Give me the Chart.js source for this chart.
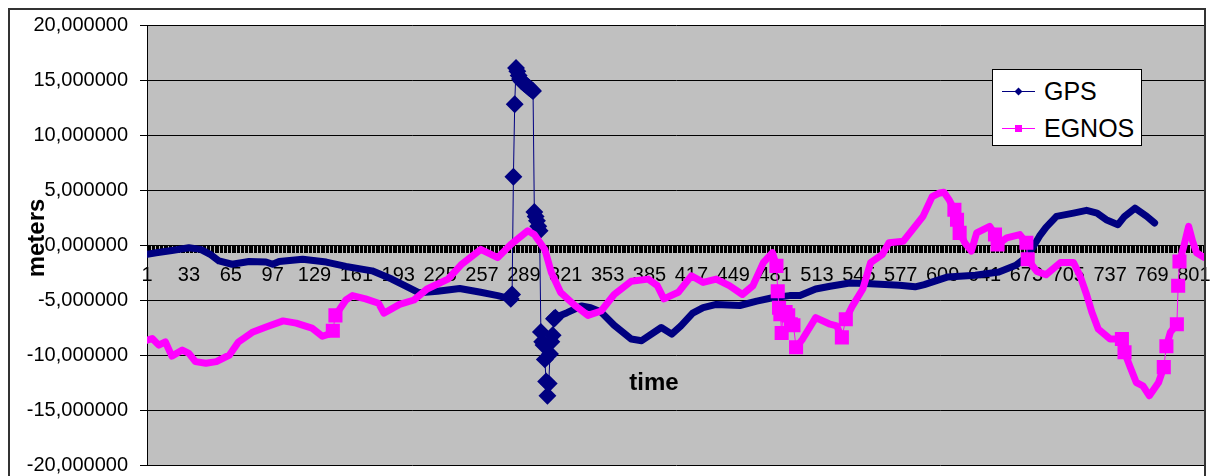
<!DOCTYPE html>
<html>
<head>
<meta charset="utf-8">
<script src="https://cdn.jsdelivr.net/npm/chart.js@4.4.1/dist/chart.umd.min.js"></script>
<style>
  html, body { margin: 0; padding: 0; background: #fff; }
  #wrap { position: relative; width: 1218px; height: 476px; overflow: hidden; }
  #frame { position: absolute; left: 8px; top: 8px; width: 1198px; height: 520px; box-sizing: border-box; border: 2px solid #333; pointer-events: none; }
  #legend { position: absolute; left: 992px; top: 69px; width: 150px; height: 77px; box-sizing: border-box; border: 1px solid #000; background: #fff; padding-top: 3px; font: 25px "Liberation Sans", Arial, sans-serif; color: #000; }
  .item { height: 37px; display: flex; align-items: center; }
  .sym { position: relative; width: 33px; height: 9px; margin-left: 9px; margin-right: 9px; }
  .sym .ln { position: absolute; left: 0; right: 0; top: 4px; height: 1px; }
  .sym .mk { position: absolute; left: 13px; top: 1px; width: 7px; height: 7px; }
  .sym .mk.diamond { transform: rotate(45deg) scale(0.8); }
</style>
</head>
<body>
<div id="wrap">
  <canvas id="c" width="1218" height="476"></canvas>
  <div id="frame"></div>
  <div id="legend"></div>
</div>
<script>
// categories are the sample numbers (1 .. 809)
const categoryCount = 809;
const xTickLabels = [1, 33, 65, 97, 129, 161, 193, 225, 257, 289, 321, 353, 385, 417, 449, 481,
  513, 545, 577, 609, 641, 673, 705, 737, 769, 801];

// GPS error (meters) read at these sample numbers
const gpsCat = [1, 8, 20, 33, 42, 50, 56, 66, 79, 92, 97, 102, 120, 138, 153, 173, 188, 198, 209, 223,
  240, 256, 269, 279, 280, 281, 282, 283, 284, 285, 286, 287, 288, 289, 290, 291, 292, 293, 294, 295,
  296, 297, 298, 299, 300, 301, 302, 303, 304, 305, 306, 307, 308, 309, 310, 311, 312, 313, 322, 333,
  340, 348, 358, 371, 379, 394, 402, 409, 418, 426, 436, 454, 467, 479, 492, 500, 512, 523, 538, 550,
  576, 588, 595, 613, 634, 652, 665, 672, 678, 683, 688, 696, 709, 719, 727, 734, 743, 748, 756, 765, 771];
const gpsVal = [-0.85, -0.7, -0.5, -0.25, -0.4, -0.9, -1.45, -1.75, -1.5, -1.55, -1.75, -1.5, -1.3, -1.55, -1.95, -2.35, -3.1, -3.7, -4.35, -4.2,
  -3.95, -4.3, -4.6, -4.9, -4.5, 6.2, 12.8, 16.1, 15.8, 15.4, 15.1, 14.9, 14.8, 14.7, 14.6, 14.5, 14.4, 14.3, 14.2, 14.1,
  14.0, 3.0, 2.6, 2.2, 1.7, 1.3, -7.9, -8.8, -9.1, -10.4, -12.4, -13.7, -12.6, -9.9, -8.8, -8.2, -6.7, -6.6, -6.15, -5.55,
  -5.7, -6.1, -7.3, -8.55, -8.7, -7.5, -8.1, -7.35, -6.2, -5.7, -5.4, -5.5, -5.1, -4.8, -4.6, -4.6, -4.0, -3.75, -3.45, -3.5,
  -3.65, -3.8, -3.6, -2.9, -2.75, -2.45, -1.85, -1.2, -0.2, 0.8, 1.6, 2.6, 2.9, 3.15, 2.9, 2.3, 1.85, 2.6, 3.35, 2.6, 2.0];

// EGNOS error (meters)
const egnosCat = [1, 5, 10, 15, 20, 28, 33, 38, 46, 54, 64, 71, 76, 82, 92, 105, 115, 127, 135, 140,
  143, 145, 153, 158, 168, 178, 182, 194, 205, 215, 231, 241, 256, 269, 279, 292, 297, 305, 310, 317,
  328, 338, 348, 358, 371, 384, 391, 396, 407, 417, 426, 436, 446, 456, 464, 472, 479, 482, 483, 484,
  485, 486, 487, 489, 491, 493, 495, 497, 502, 512, 523, 528, 532, 535, 540, 548, 554, 563, 568, 579,
  586, 594, 601, 606, 610, 614, 618, 620, 622, 626, 631, 635, 645, 649, 651, 658, 668, 673, 674, 681,
  688, 699, 709, 714, 719, 723, 728, 737, 746, 748, 752, 757, 762, 767, 774, 778, 780, 783, 788, 789,
  790, 793, 797, 800, 803, 809];
const egnosVal = [-8.65, -8.5, -9.1, -8.8, -10.1, -9.55, -9.85, -10.6, -10.75, -10.6, -10.0, -8.8, -8.4, -7.9, -7.45, -6.9, -7.1, -7.55, -8.3, -8.1,
  -7.8, -6.4, -5.0, -4.6, -4.9, -5.3, -6.2, -5.4, -5.0, -4.0, -3.1, -1.8, -0.4, -1.15, 0.05, 1.3, 0.95, -0.4, -2.5, -4.3,
  -5.5, -6.4, -6.0, -4.5, -3.3, -3.1, -3.7, -4.9, -4.3, -2.8, -3.4, -3.1, -3.7, -4.5, -3.7, -1.6, -0.7, -1.9, -4.2, -5.7,
  -6.3, -8.0, -6.2, -6.1, -6.4, -7.2, -7.3, -9.3, -8.55, -6.6, -7.2, -7.35, -8.4, -6.75, -5.55, -4.0, -1.6, -0.85, 0.2, 0.35,
  1.4, 2.6, 4.4, 4.7, 4.8, 4.1, 3.2, 2.3, 1.1, 0.2, -0.55, 1.1, 1.7, 0.95, 0.05, 0.65, 0.95, 0.2, -1.3, -2.4,
  -2.7, -1.6, -1.6, -2.8, -4.5, -6.1, -7.65, -8.55, -8.55, -9.75, -11.0, -12.5, -12.8, -13.7, -12.5, -11.1, -9.2, -7.95, -7.2, -3.7,
  -1.5, -0.25, 1.7, 0.35, -0.7, -1.15];

const fontFamily = '"Liberation Sans", Arial, sans-serif';

// where consecutive samples jump a lot, Excel's markers separate and the thin line shows
function steep(a, b) {
  return Math.abs(b.y - a.y) / Math.abs(b.x - a.x) > 0.55;
}
function markerRadius(r) {
  return ctx => {
    const d = ctx.dataset.data, i = ctx.dataIndex;
    const near = (a, b) => steep(a, b) || Math.abs(b.x - a.x) <= 2;
    const prev = i > 0 && near(d[i - 1], d[i]);
    const next = i < d.length - 1 && near(d[i], d[i + 1]);
    return prev || next ? r : 0;
  };
}

const plotBg = {
  id: 'plotBg',
  beforeDraw(chart) {
    const {ctx, chartArea: a} = chart;
    ctx.save();
    ctx.fillStyle = '#c0c0c0';
    ctx.fillRect(a.left, a.top, a.right - a.left, a.bottom - a.top);
    ctx.restore();
  }
};

const axisTitles = {
  id: 'axisTitles',
  beforeDatasetsDraw(chart) {
    const ctx = chart.ctx;
    ctx.save();
    ctx.fillStyle = '#000';
    ctx.font = 'bold 24px ' + fontFamily;
    ctx.textAlign = 'center';
    ctx.textBaseline = 'middle';
    ctx.fillText('time', 654, 383);
    ctx.translate(37, 238);
    ctx.rotate(-Math.PI / 2);
    ctx.fillText('meters', 0, 0);
    ctx.restore();
  }
};

const chart = new Chart(document.getElementById('c'), {
  type: 'line',
  data: {
    datasets: [{
      label: 'GPS',
      data: gpsCat.map((c, i) => ({x: c, y: gpsVal[i]})),
      borderColor: '#000080',
      backgroundColor: '#000080',
      pointBackgroundColor: '#000080',
      pointBorderColor: '#000080',
      pointStyle: 'rectRot',
      pointRadius: markerRadius(4),
      borderWidth: 7,
      borderJoinStyle: 'round',
      borderCapStyle: 'round',
      segment: { borderWidth: s => steep(s.p0.parsed, s.p1.parsed) ? 1 : 7 },
      order: 1
    }, {
      label: 'EGNOS',
      data: egnosCat.map((c, i) => ({x: c, y: egnosVal[i]})),
      borderColor: '#ff00ff',
      backgroundColor: '#ff00ff',
      pointBackgroundColor: '#ff00ff',
      pointBorderColor: '#ff00ff',
      pointStyle: 'rect',
      pointRadius: markerRadius(5),
      borderWidth: 7,
      borderJoinStyle: 'round',
      borderCapStyle: 'round',
      segment: { borderWidth: s => steep(s.p0.parsed, s.p1.parsed) ? 1 : 7 },
      order: 0
    }]
  },
  options: {
    responsive: false,
    devicePixelRatio: 1,
    animation: false,
    layout: { padding: { top: 25, right: 13, bottom: 11, left: 0 } },
    plugins: { legend: { display: false }, tooltip: { enabled: false } },
    scales: {
      x: {
        type: 'linear',
        min: 1,
        max: 809.5,
        position: { y: 0 },
        afterBuildTicks: axis => {
          const t = [];
          for (let c = 1; c <= categoryCount; c++) t.push({value: c});
          axis.ticks = t;
        },
        ticks: {
          autoSkip: false,
          maxRotation: 0,
          minRotation: 0,
          padding: 13,
          color: '#000',
          font: { family: fontFamily, size: 20, lineHeight: 1 },
          callback: v => xTickLabels.includes(v) ? String(v) : ''
        },
        grid: { drawOnChartArea: false, drawTicks: true, tickLength: 7, tickColor: '#000', tickWidth: 1 },
        border: { color: '#000', width: 1 }
      },
      y: {
        min: -20,
        max: 20,
        afterFit: s => { s.width = 147; s.paddingTop = 0; s.paddingBottom = 0; },
        ticks: {
          stepSize: 5,
          padding: 12,
          color: '#000',
          font: { family: fontFamily, size: 20, lineHeight: 1 },
          callback: v => v.toFixed(6).replace('.', ',')
        },
        grid: { color: '#000', lineWidth: 1, tickLength: 7, tickColor: '#000' },
        border: { color: '#000', width: 1 }
      }
    }
  },
  plugins: [plotBg, axisTitles]
});

// legend box inside the plot, built from the datasets
const legend = document.getElementById('legend');
chart.data.datasets.forEach(ds => {
  const item = document.createElement('div');
  item.className = 'item';
  const sym = document.createElement('span');
  sym.className = 'sym';
  const ln = document.createElement('span');
  ln.className = 'ln';
  ln.style.background = ds.borderColor;
  const mk = document.createElement('span');
  mk.className = 'mk' + (ds.pointStyle === 'rectRot' ? ' diamond' : '');
  mk.style.background = ds.borderColor;
  sym.appendChild(ln);
  sym.appendChild(mk);
  const txt = document.createElement('span');
  txt.textContent = ds.label;
  item.appendChild(sym);
  item.appendChild(txt);
  legend.appendChild(item);
});
</script>
</body>
</html>
